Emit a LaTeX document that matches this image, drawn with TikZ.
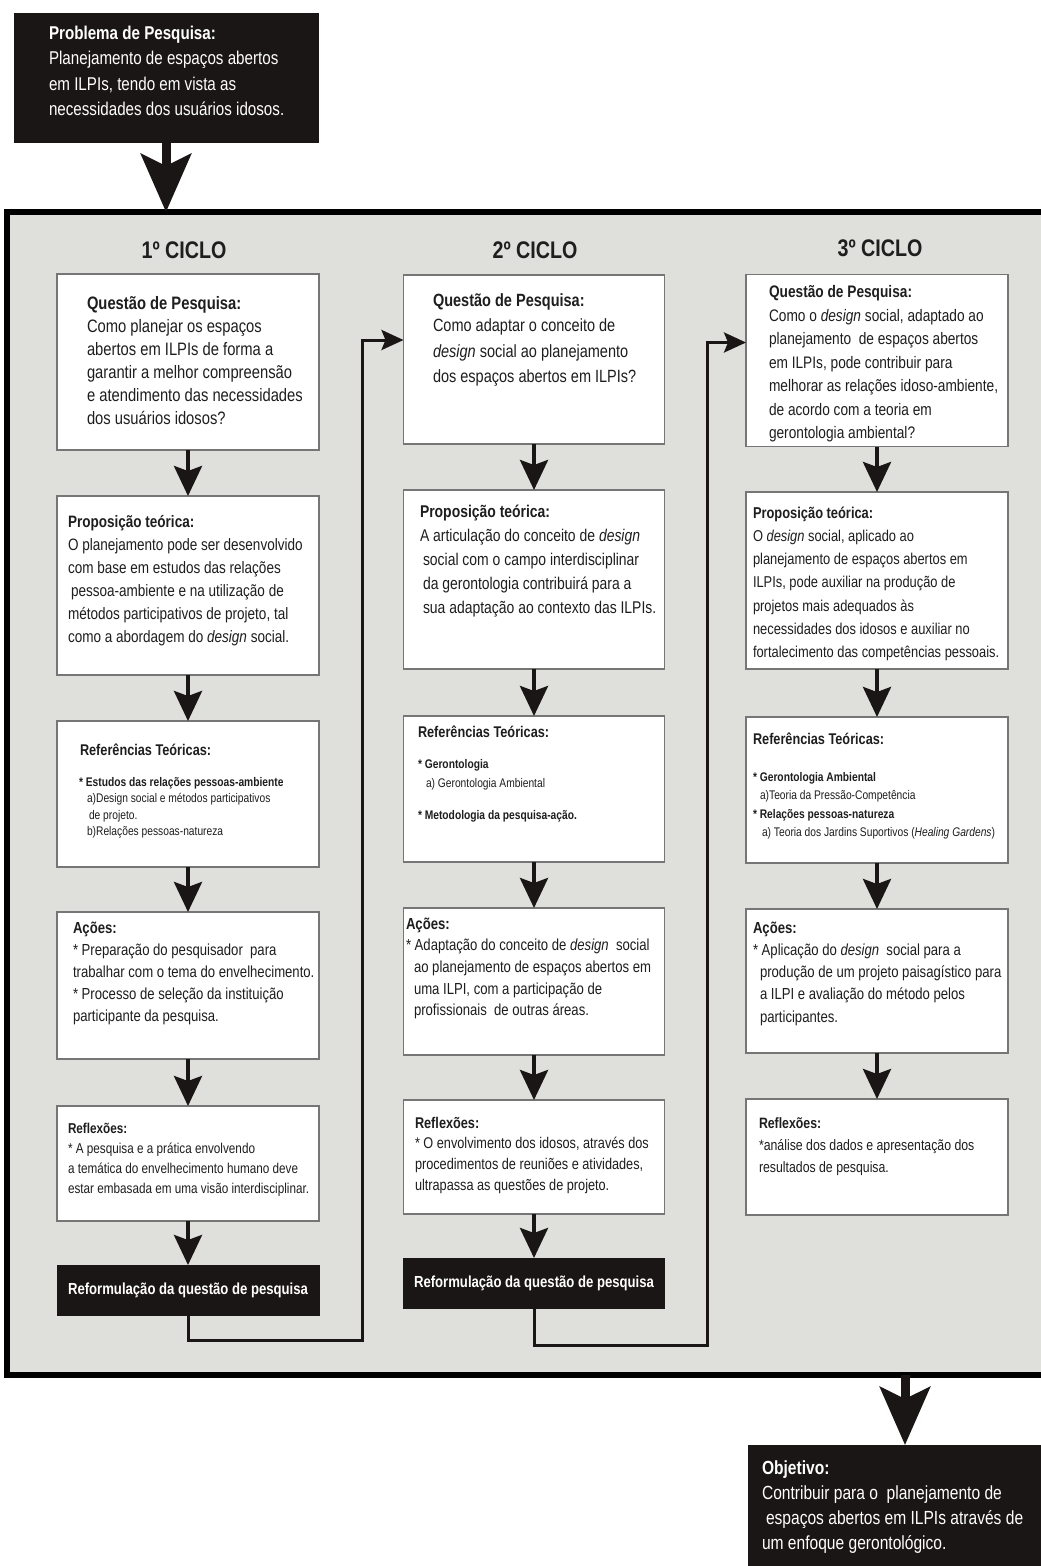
\documentclass[tikz,border=0pt]{standalone}
\usepackage{fontspec}
\setmainfont[FakeStretch=0.82]{Liberation Sans}
\usetikzlibrary{arrows.meta,calc}
\definecolor{panel}{HTML}{DFDFDB}
\definecolor{ink}{HTML}{1B1616}
\definecolor{edge}{HTML}{767676}
\definecolor{txt}{HTML}{1E1E1E}
% multi-line text block whose reference point is the baseline of its first line
\newcommand\txtblock[3]{{\fontsize{#1}{#2}\selectfont\begin{tabular}[t]{@{}l@{}}#3\end{tabular}}}
\newcommand\dsg{\textit{design}}
% bullet star that is safe right after a tabular line break
\newcommand\bul{{*}}

\begin{document}
\begin{tikzpicture}[x=1pt,y=-1pt,
  bigframe/.style={draw=black,line width=6pt,fill=panel,inner sep=0pt,outer sep=0pt},
  card/.style={draw=edge,line width=1.6pt,fill=white,inner sep=0pt,outer sep=0pt,minimum width=262pt},
  darkcard/.style={draw=ink,fill=ink,inner sep=0pt,outer sep=0pt},
  reform/.style={darkcard,minimum width=262pt,minimum height=50pt,text=white,
    font=\fontsize{16}{19}\selectfont\bfseries},
  words/.style={anchor=base west,inner sep=0pt,outer sep=0pt,text=txt},
  head/.style={inner sep=0pt,text=txt,font=\fontsize{24}{28}\selectfont\bfseries},
  flowarrow/.style={line width=4pt,draw=ink,-{Stealth[length=30pt,width=28pt,inset=5pt]}},
  bigarrow/.style={line width=9pt,draw=ink,-{Stealth[length=58pt,width=50pt,inset=12pt]}},
  link/.style={line width=3pt,draw=ink,line join=miter,-{Stealth[length=22pt,width=20pt,inset=4pt]}}
]
\useasboundingbox (0,0) rectangle (1041,1566);
\clip (0,0) rectangle (1041,1566);
\fill[white] (0,0) rectangle (1041,1566);

% outer panel holding the three cycles
\node[bigframe,minimum width=1063pt,minimum height=1163pt] (panel) at (538.5,793.5) {};

% research problem
\node[darkcard,minimum width=304pt,minimum height=129pt] (prob) at (166,77.5) {};
\node[words,text=white] (probtxt) at (49,39) {\txtblock{18.5}{25.5}{%
  \textbf{Problema de Pesquisa:}\\
  Planejamento de espaços abertos\\
  em ILPIs, tendo em vista as\\
  necessidades dos usuários idosos.}};
\draw[bigarrow] (prob.south) -- (prob.south |- panel.north);

% cycle headings
\node[head] (h1) at (184,250) {1º CICLO};
\node[head] (h2) at (535,250) {2º CICLO};
\node[head] (h3) at (880,248) {3º CICLO};

% ---------- first cycle ----------
\node[card,minimum height=176pt] (q1) at (188,362) {};
\node[card,minimum height=179pt] (p1) at (188,585.5) {};
\node[card,minimum height=146pt] (r1) at (188,794) {};
\node[card,minimum height=147pt] (a1) at (188,985.5) {};
\node[card,minimum height=115pt] (f1) at (188,1163.5) {};
\node[reform] (m1) at (188,1290) {Reformulação da questão de pesquisa};

\node[words] (q1t) at (87,309) {\txtblock{18}{23}{%
  \textbf{Questão de Pesquisa:}\\
  Como planejar os espaços\\
  abertos em ILPIs de forma a\\
  garantir a melhor compreensão\\
  e atendimento das necessidades\\
  dos usuários idosos?}};
\node[words] (p1t) at (68,527.5) {\txtblock{16.5}{23}{%
  \textbf{Proposição teórica:}\\
  O planejamento pode ser desenvolvido\\
  com base em estudos das relações\\
  \hspace{3pt}pessoa-ambiente e na utilização de\\
  métodos participativos de projeto, tal\\
  como a abordagem do \dsg{} social.}};
\node[words] (r1t) at (80,755) {\fontsize{15.5}{18}\selectfont\bfseries Referências Teóricas:};
\node[words] (r1i) at (79,786) {\txtblock{12.5}{16.5}{%
  \textbf{\bul{} Estudos das relações pessoas-ambiente}\\
  \hspace{8pt}a)Design social e métodos participativos\\
  \hspace{10pt}de projeto.\\
  \hspace{8pt}b)Relações pessoas-natureza}};
\node[words] (a1t) at (73,933) {\txtblock{16}{22}{%
  \textbf{Ações:}\\
  \bul{} Preparação do pesquisador\ \ para\\
  trabalhar com o tema do envelhecimento.\\
  \bul{} Processo de seleção da instituição\\
  participante da pesquisa.}};
\node[words] (f1t) at (68,1133) {\txtblock{14.3}{20}{%
  \textbf{Reflexões:}\\
  \bul{} A pesquisa e a prática envolvendo\\
  a temática do envelhecimento humano deve\\
  estar embasada em uma visão interdisciplinar.}};

\draw[flowarrow] (q1) -- (p1);
\draw[flowarrow] (p1) -- (r1);
\draw[flowarrow] (r1) -- (a1);
\draw[flowarrow] (a1) -- (f1);
\draw[flowarrow] (f1) -- (m1);

% ---------- second cycle ----------
\node[card,minimum width=261pt,minimum height=169pt] (q2) at (534,359.5) {};
\node[card,minimum width=261pt,minimum height=179pt] (p2) at (534,579.5) {};
\node[card,minimum width=261pt,minimum height=146pt] (r2) at (534,789) {};
\node[card,minimum width=261pt,minimum height=147pt] (a2) at (534,981.5) {};
\node[card,minimum width=261pt,minimum height=114pt] (f2) at (534,1157) {};
\node[reform,minimum width=261pt] (m2) at (534,1283) {Reformulação da questão de pesquisa};

\node[words] (q2t) at (433,306) {\txtblock{17.7}{25.5}{%
  \textbf{Questão de Pesquisa:}\\
  Como adaptar o conceito de\\
  \dsg{} social ao planejamento\\
  dos espaços abertos em ILPIs?}};
\node[words] (p2t) at (420,517.6) {\txtblock{17}{24}{%
  \textbf{Proposição teórica:}\\
  A articulação do conceito de \dsg\\
  \hspace{3pt}social com o campo interdisciplinar\\
  \hspace{3pt}da gerontologia contribuirá para a\\
  \hspace{3pt}sua adaptação ao contexto das ILPIs.}};
\node[words] (r2t) at (418,737) {\fontsize{15.5}{18}\selectfont\bfseries Referências Teóricas:};
\node[words] (r2i) at (418,768) {\txtblock{12.5}{19.5}{%
  \textbf{\bul{} Gerontologia}\\
  \hspace{8pt}a) Gerontologia Ambiental\\[12pt]
  \textbf{\bul{} Metodologia da pesquisa-ação.}}};
\node[words] (a2t) at (406,929) {\txtblock{16}{21.7}{%
  \textbf{Ações:}\\
  \bul{} Adaptação do conceito de \dsg\ \ social\\
  \hspace{8pt}ao planejamento de espaços abertos em\\
  \hspace{8pt}uma ILPI, com a participação de\\
  \hspace{8pt}profissionais\ \ de outras áreas.}};
\node[words] (f2t) at (415,1128) {\txtblock{15.5}{20.7}{%
  \textbf{Reflexões:}\\
  \bul{} O envolvimento dos idosos, através dos\\
  procedimentos de reuniões e atividades,\\
  ultrapassa as questões de projeto.}};

\draw[flowarrow] (q2) -- (p2);
\draw[flowarrow] (p2) -- (r2);
\draw[flowarrow] (r2) -- (a2);
\draw[flowarrow] (a2) -- (f2);
\draw[flowarrow] (f2) -- (m2);

% ---------- third cycle ----------
\node[card,minimum height=172pt] (q3) at (877,360.5) {};
\node[card,minimum height=177pt] (p3) at (877,580.5) {};
\node[card,minimum height=146pt] (r3) at (877,790) {};
\node[card,minimum height=144pt] (a3) at (877,981) {};
\node[card,minimum height=116pt] (f3) at (877,1157) {};

\node[words] (q3t) at (769,297.5) {\txtblock{16.7}{23.5}{%
  \textbf{Questão de Pesquisa:}\\
  Como o \dsg{} social, adaptado ao\\
  planejamento\ \ de espaços abertos\\
  em ILPIs, pode contribuir para\\
  melhorar as relações idoso-ambiente,\\
  de acordo com a teoria em\\
  gerontologia ambiental?}};
\node[words] (p3t) at (753,518) {\txtblock{15.7}{23.3}{%
  \textbf{Proposição teórica:}\\
  O \dsg{} social, aplicado ao\\
  planejamento de espaços abertos em\\
  ILPIs, pode auxiliar na produção de\\
  projetos mais adequados às\\
  necessidades dos idosos e auxiliar no\\
  fortalecimento das competências pessoais.}};
\node[words] (r3t) at (753,744) {\fontsize{15.5}{18}\selectfont\bfseries Referências Teóricas:};
\node[words] (r3i) at (753,781) {\txtblock{12.5}{18.5}{%
  \textbf{\bul{} Gerontologia Ambiental}\\
  \hspace{7pt}a)Teoria da Pressão-Competência\\
  \textbf{\bul{} Relações pessoas-natureza}\\
  \hspace{9pt}a) Teoria dos Jardins Suportivos (\textit{Healing Gardens})}};
\node[words] (a3t) at (753,933) {\txtblock{16}{22.3}{%
  \textbf{Ações:}\\
  \bul{} Aplicação do \dsg\ \ social para a\\
  \hspace{7pt}produção de um projeto paisagístico para\\
  \hspace{7pt}a ILPI e avaliação do método pelos\\
  \hspace{7pt}participantes.}};
\node[words] (f3t) at (759,1128) {\txtblock{15}{22}{%
  \textbf{Reflexões:}\\
  \bul{}análise dos dados e apresentação dos\\
  resultados de pesquisa.}};

\draw[flowarrow] (q3) -- (p3);
\draw[flowarrow] (p3) -- (r3);
\draw[flowarrow] (r3) -- (a3);
\draw[flowarrow] (a3) -- (f3);

% ---------- links between cycles ----------
\coordinate (bend1) at (362,1340);
\coordinate (into2) at ([yshift=-65pt]q2.north west);
\draw[link] (m1.south) |- (bend1) |- (into2);
\coordinate (bend2) at (707,1345);
\coordinate (into3) at ([yshift=-68pt]q3.north west);
\draw[link] (m2.south) |- (bend2) |- (into3);

% ---------- objective ----------
\node[darkcard,minimum width=314pt,minimum height=155pt] (obj) at (905,1522.5) {};
\node[words,text=white] (objt) at (762,1474) {\txtblock{19}{25}{%
  \textbf{Objetivo:}\\
  Contribuir para o\ \ planejamento de\\
  \hspace{4pt}espaços abertos em ILPIs através de\\
  um enfoque gerontológico.}};
\draw[bigarrow] (obj.north |- panel.south) -- (obj.north);
\end{tikzpicture}
\end{document}
